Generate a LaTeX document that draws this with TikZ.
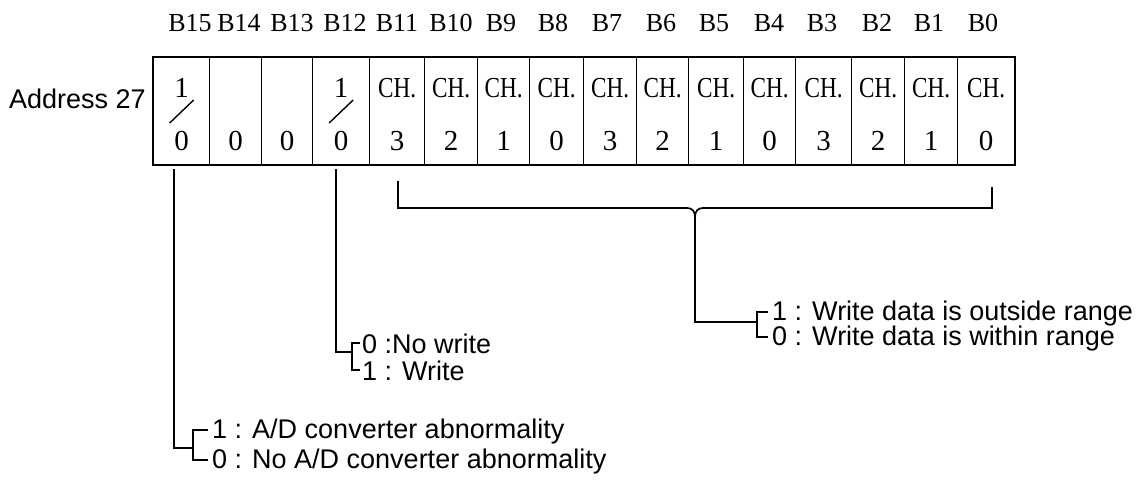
\documentclass[tikz,border=0pt]{standalone}
\usepackage{fontspec}
\setmainfont{Liberation Sans}
\newfontfamily\cellfont{Liberation Serif}
\usepackage{graphicx}
\usetikzlibrary{calc}

% narrowed letters for the channel cells
\newcommand\cnd[1]{\scalebox{0.8}[1]{#1}}

\begin{document}
\begin{tikzpicture}[x=1pt,y=-1pt,
  rule/.style={line width=1.7pt, line join=miter},
  cellbox/.style={draw, line width=1.3pt, minimum height=107pt, inner sep=0pt},
  frame/.style={draw, line width=1.9pt},
  bitlabel/.style={font=\fontsize{26}{26}\cellfont, anchor=base, inner sep=0pt},
  cellchar/.style={font=\fontsize{29}{29}\cellfont, anchor=base, inner sep=0pt},
  note/.style={font=\fontsize{27}{27}\selectfont, anchor=base west, inner sep=0pt},
]
\useasboundingbox (0,0) rectangle (1145,479);

% register name
\node[note] (addr) at (9,108) {Address 27};

% the sixteen bit cells
\foreach \l/\r/\b in {153/209/15,209/261/14,261/312/13,312/369/12,
  369/424/11,424/477/10,477/529/9,529/583/8,583/636/7,636/688/6,
  688/743/5,743/795/4,795/851/3,851/904/2,904/957/1,957/1014/0}
{
  \node[cellbox, minimum width={(\r-\l)*1pt}, anchor=north west] (bit\b) at (\l,57) {};
}
\draw[frame] (bit15.north west) rectangle (bit0.south east);

% bit numbers above the cells
\foreach \x/\b in {190/15,239/14,292/13,345/12,397/11,451/10,501/9,553/8,
  607/7,661/6,714/5,769/4,822/3,877/2,929/1,983/0}{
  \node[bitlabel] (lab\b) at (\x,31) {B\b};
}

% flag bits: 1 / 0
\foreach \b in {15,12}{
  \node[cellchar] (one\b) at (bit\b.north |- 0,97) {1};
  \draw[line width=1.4pt] ($(bit\b.north)+(-12,66)$) -- ($(bit\b.north)+(12,43)$);
}
\foreach \b in {15,14,13,12}{
  \node[cellchar] (zero\b) at (bit\b.north |- 0,150) {0};
}

% channel bits
\foreach \b/\ch in {11/3,10/2,9/1,8/0,7/3,6/2,5/1,4/0,3/3,2/2,1/1,0/0}{
  \node[cellchar] (ch\b) at (bit\b.north |- 0,97) {\cnd{CH.}};
  \node[cellchar] (num\b) at (bit\b.north |- 0,150) {\ch};
}

% explanation texts
\node[note] (ad1) at (212,438) {1 : A/D converter abnormality};
\node[note] (ad0) at (212,468) {0 : No A/D converter abnormality};
\node[note] (wr0) at (362,353) {0 :No write};
\node[note] (wr1) at (362,380) {1 : Write};
\node[note] (rg1) at (772,320) {1 : Write data is outside range};
\node[note] (rg0) at (772,345) {0 : Write data is within range};

% tick ends beside the texts
\foreach \n in {ad1,ad0,rg1,rg0}{
  \coordinate (\n t) at ([shift={(-4pt,8pt)}]\n.base west);
}
\foreach \n in {wr0,wr1}{
  \coordinate (\n t) at ([shift={(-2pt,10pt)}]\n.base west);
}

% B15 lead
\coordinate (s15) at (174,169);
\coordinate (j15) at (193,448);
\draw[rule] (s15) |- (j15);
\draw[rule] (ad1t) -| (j15) |- (ad0t);

% B12 lead
\coordinate (s12) at (336,169);
\coordinate (j12) at (352,352);
\draw[rule] (s12) |- (j12);
\draw[rule] (wr0t) -| (j12) |- (wr1t);

% brace over B11..B0
\coordinate (bl) at (398,181);
\coordinate (br) at (992,187);
\coordinate (cl) at (687,208);
\coordinate (cr) at (703,208);
\coordinate (cusp) at (695,217);
\coordinate (jr) at (757,322);
\draw[rule] (bl) |- (cl) .. controls (692,208) and (695,211) .. (cusp);
\draw[rule] (br) |- (cr) .. controls (698,208) and (695,211) .. (cusp);
\draw[rule] (cusp) |- (jr);
\draw[rule] (rg1t) -| (jr) |- (rg0t);
\end{tikzpicture}
\end{document}
